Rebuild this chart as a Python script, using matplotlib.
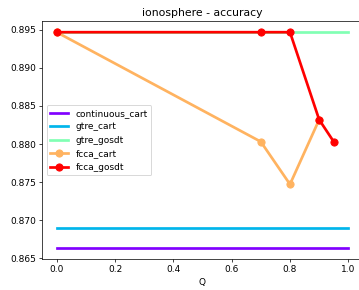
import matplotlib
matplotlib.use("Agg")
import matplotlib.pyplot as plt
import numpy as np

q_line = [0.0, 1.0]
continuous_cart = [0.8663, 0.8663]
gtre_cart = [0.8690, 0.8690]
gtre_gosdt = [0.8947, 0.8947]
fcca_cart_q = [0.0, 0.7, 0.8, 0.9]
fcca_cart = [0.8947, 0.8803, 0.8747, 0.8832]
fcca_gosdt_q = [0.0, 0.7, 0.8, 0.9, 0.95]
fcca_gosdt = [0.8947, 0.8947, 0.8947, 0.8832, 0.8803]

colors = plt.cm.rainbow(np.linspace(0, 1, 5))

dpi = 65
fig = plt.figure(figsize=(359 / dpi, 290 / dpi), dpi=dpi)
ax = fig.add_axes([42.1 / 359, 31 / 290, (362.9 - 42.1) / 359, (259 - 21.4) / 290])

ax.plot(q_line, continuous_cart, color=colors[0], lw=3, label="continuous_cart")
ax.plot(q_line, gtre_cart, color=colors[1], lw=3, label="gtre_cart")
ax.plot(q_line, gtre_gosdt, color=colors[2], lw=3, label="gtre_gosdt")
ax.plot(fcca_cart_q, fcca_cart, color=colors[3], lw=3, marker="o", ms=8, label="fcca_cart")
ax.plot(fcca_gosdt_q, fcca_gosdt, color=colors[4], lw=3, marker="o", ms=8, label="fcca_gosdt")

ax.set_title("ionosphere - accuracy")
ax.set_xlabel("Q")
ax.set_yticks([0.865, 0.870, 0.875, 0.880, 0.885, 0.890, 0.895])
ax.legend(loc="center left")

fig.savefig("out.png", dpi=dpi)
